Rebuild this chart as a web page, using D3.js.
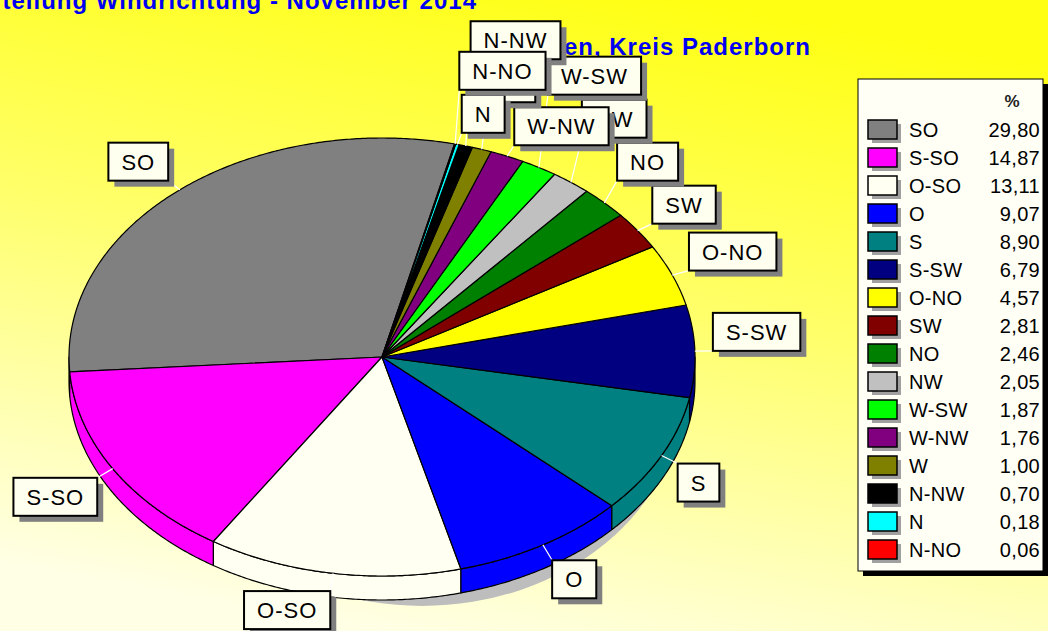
<!DOCTYPE html>
<html>
<head>
<meta charset="utf-8">
<script src="https://cdn.jsdelivr.net/npm/d3@7"></script>
<style>
  html, body { margin: 0; padding: 0; overflow: hidden; }
  text { font-family: "Liberation Sans", Arial, sans-serif; }
</style>
</head>
<body>
<div id="chart"></div>
<script>
// data
const directions = ["SO", "S-SO", "O-SO", "O", "S", "S-SW", "O-NO", "SW", "NO", "NW", "W-SW", "W-NW", "W", "N-NW", "N", "N-NO"];
const percents = [29.80, 14.87, 13.11, 9.07, 8.90, 6.79, 4.57, 2.81, 2.46, 2.05, 1.87, 1.76, 1.00, 0.70, 0.18, 0.06];
const titleLines = ["Häufigkeitsverteilung Windrichtung - November 2014", "Husen, Kreis Paderborn"];
const legendHeader = "%";

// layout
const width = 1048, height = 631;
const cx = 382, cy = 357, rx = 313, ry = 219, depth = 24;
const rad = Math.PI / 180;
const startAngle = 13.4 * rad;

let color = d3.scaleOrdinal()
    .domain(directions)
    .range(["#808080", "#ff00ff", "#fffff2", "#0000ff", "#008080", "#000080", "#ffff00", "#800000",
            "#008000", "#c0c0c0", "#00ff00", "#800080", "#808000", "#000000", "#00ffff", "#ff0000"]);

let fmt = d3.formatLocale({decimal: ",", thousands: ".", grouping: [3], currency: ["", " €"]}).format(".2f");

let svg = d3.select("#chart").append("svg")
    .attr("width", width)
    .attr("height", height);

// background
{
    let grad = svg.append("defs").append("linearGradient")
        .attr("id", "bg")
        .attr("x1", "0.65").attr("y1", "0")
        .attr("x2", "0.35").attr("y2", "1");
    grad.append("stop").attr("offset", "0").attr("stop-color", "#ffff14");
    grad.append("stop").attr("offset", "0.45").attr("stop-color", "#ffff6a");
    grad.append("stop").attr("offset", "1").attr("stop-color", "#ffffe6");
    svg.append("rect")
        .attr("width", width)
        .attr("height", height)
        .attr("fill", "url(#bg)");
}

// title
svg.selectAll(".title")
    .data(titleLines)
    .enter()
    .append("text")
    .attr("class", "title")
    .attr("x", (d, i) => i == 0 ? 477 : 811)
    .attr("y", (d, i) => i == 0 ? 9 : 55)
    .attr("text-anchor", "end")
    .attr("font-size", 24)
    .attr("font-weight", "bold")
    .attr("letter-spacing", 1)
    .attr("fill", "#0000f0")
    .text(d => d);

// pie
let pie = d3.pie()
    .sort(null)
    .value(d => d.value)
    .startAngle(startAngle)
    .endAngle(startAngle - 2 * Math.PI);
let arcs = pie(directions.map((k, i) => ({key: k, value: percents[i]})));

function ep(a, dy) {
    return [cx + rx * Math.sin(a), cy - ry * Math.cos(a) + (dy || 0)];
}

function topPath(d) {
    let lo = Math.min(d.startAngle, d.endAngle),
        hi = Math.max(d.startAngle, d.endAngle),
        n = Math.max(2, Math.ceil((hi - lo) / (0.5 * rad)));
    let p = d3.path();
    p.moveTo(cx, cy);
    for (let i = 0; i <= n; ++i) {
        let pt = ep(lo + (hi - lo) * i / n);
        p.lineTo(pt[0], pt[1]);
    }
    p.closePath();
    return p.toString();
}

// side walls only where the rim faces the viewer
let sides = [];
arcs.forEach(d => {
    let lo = Math.min(d.startAngle, d.endAngle),
        hi = Math.max(d.startAngle, d.endAngle);
    [[90 * rad, 270 * rad], [-270 * rad, -90 * rad]].forEach(w => {
        let s = Math.max(lo, w[0]), e = Math.min(hi, w[1]);
        if (e > s) sides.push({key: d.data.key, s: s, e: e});
    });
});

function sidePath(d) {
    let n = Math.max(2, Math.ceil((d.e - d.s) / (0.5 * rad)));
    let p = d3.path();
    let p0 = ep(d.s);
    p.moveTo(p0[0], p0[1]);
    for (let i = 1; i <= n; ++i) {
        let pt = ep(d.s + (d.e - d.s) * i / n);
        p.lineTo(pt[0], pt[1]);
    }
    for (let i = n; i >= 0; --i) {
        let pt = ep(d.s + (d.e - d.s) * i / n, depth);
        p.lineTo(pt[0], pt[1]);
    }
    p.closePath();
    return p.toString();
}

// shadow under the pie
svg.append("ellipse")
    .attr("cx", cx + 40)
    .attr("cy", cy + depth + 10)
    .attr("rx", rx - 53)
    .attr("ry", ry - 4)
    .attr("fill", "#bdbdbd");

svg.selectAll(".side")
    .data(sides)
    .enter()
    .append("path")
    .attr("class", "side")
    .attr("d", sidePath)
    .attr("fill", d => color(d.key))
    .attr("stroke", "#000")
    .attr("stroke-width", 1.2)
    .attr("stroke-linejoin", "round");

svg.selectAll(".slice")
    .data(arcs)
    .enter()
    .append("path")
    .attr("class", "slice")
    .attr("d", topPath)
    .attr("fill", d => color(d.data.key))
    .attr("stroke", "#000")
    .attr("stroke-width", 1.2)
    .attr("stroke-linejoin", "round");

// marks (labels)
{
    let pad = 13, boxH = 38, gap = 5;
    let leaderG = svg.append("g"),
        boxG = svg.append("g");

    // measure text widths
    let probe = svg.append("text")
        .attr("font-size", 22)
        .attr("letter-spacing", 1);
    let boxes = [];
    arcs.forEach((d, i) => {
        probe.text(d.data.key);
        let tw = probe.node().getComputedTextLength();
        let mid = (d.startAngle + d.endAngle) / 2,
            s = Math.sin(mid), c = Math.cos(mid);
        let ax = cx + (rx + 18) * s,
            ay = cy - (ry + (c >= 0 ? 12 : 18)) * c;
        let w = tw + 2 * pad;
        let b = {
            key: d.data.key,
            edge: ep(mid),
            s: s, c: c,
            w: w, h: boxH,
            x: s >= 0 ? ax : ax - w,
            y: c >= 0 ? ay - boxH : ay
        };
        // avoid the previous mark
        if (i > 0) {
            let p = boxes[i - 1];
            let hit = b.x < p.x + p.w && b.x + b.w > p.x && b.y < p.y + p.h && b.y + b.h > p.y;
            if (hit && c >= 0) b.y = p.y - boxH - gap;
        }
        boxes.push(b);
    });
    probe.remove();

    leaderG.selectAll("line")
        .data(boxes)
        .enter()
        .append("line")
        .attr("x1", d => d.edge[0])
        .attr("y1", d => d.edge[1])
        .attr("x2", d => d.s >= 0 ? d.x : d.x + d.w)
        .attr("y2", d => d.c >= 0 ? d.y + d.h : d.y)
        .attr("stroke", "#fff")
        .attr("stroke-width", 1.2);

    let mark = boxG.selectAll("g")
        .data(boxes)
        .enter()
        .append("g")
        .attr("transform", d => "translate(" + d.x + "," + d.y + ")");
    mark.append("rect")
        .attr("x", 6).attr("y", 6)
        .attr("width", d => d.w)
        .attr("height", d => d.h)
        .attr("fill", "#808080");
    mark.append("rect")
        .attr("width", d => d.w)
        .attr("height", d => d.h)
        .attr("fill", "#fffff0")
        .attr("stroke", "#000")
        .attr("stroke-width", 2);
    mark.append("text")
        .attr("x", d => d.w / 2)
        .attr("y", d => d.h / 2 + 8)
        .attr("text-anchor", "middle")
        .attr("font-size", 22)
        .attr("letter-spacing", 1)
        .attr("fill", "#000")
        .text(d => d.key);
}

// legend
{
    let lx = 858, ly = 79, lw = 185, lh = 492,
        row0 = 130, rowH = 28;
    svg.append("rect")
        .attr("x", lx + 5).attr("y", ly + 5)
        .attr("width", lw).attr("height", lh)
        .attr("fill", "#000");
    svg.append("rect")
        .attr("x", lx).attr("y", ly)
        .attr("width", lw).attr("height", lh)
        .attr("fill", "#fffff6")
        .attr("stroke", "#000")
        .attr("stroke-width", 1);
    svg.append("text")
        .attr("x", 1012).attr("y", 107)
        .attr("text-anchor", "middle")
        .attr("font-size", 17)
        .attr("font-weight", "bold")
        .attr("fill", "#222")
        .text(legendHeader);

    let rows = svg.selectAll(".legRow")
        .data(directions)
        .enter()
        .append("g")
        .attr("class", "legRow")
        .attr("transform", (d, i) => "translate(0," + (row0 + i * rowH) + ")");
    rows.append("rect")
        .attr("x", 872).attr("y", -6)
        .attr("width", 29).attr("height", 19)
        .attr("fill", "#a0a0a0");
    rows.append("rect")
        .attr("x", 868).attr("y", -10)
        .attr("width", 29).attr("height", 19)
        .attr("fill", d => color(d))
        .attr("stroke", "#000")
        .attr("stroke-width", 1.5);
    rows.append("text")
        .attr("x", 909).attr("y", 7)
        .attr("font-size", 20)
        .attr("letter-spacing", 0.3)
        .attr("fill", "#000")
        .text(d => d);
    rows.append("text")
        .attr("x", 1040).attr("y", 7)
        .attr("text-anchor", "end")
        .attr("font-size", 20)
        .attr("letter-spacing", 0.3)
        .attr("fill", "#000")
        .text((d, i) => fmt(percents[i]));
}
</script>
</body>
</html>
